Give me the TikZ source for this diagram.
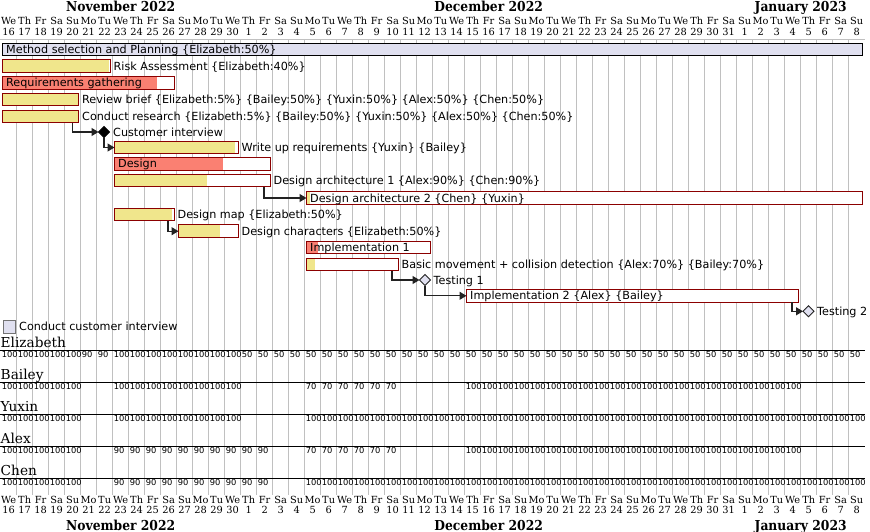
\documentclass[tikz,border=0pt]{standalone}
\usepackage{fontspec}
\setmainfont{DejaVu Sans}
\newfontfamily\hdrfont{DejaVu Serif}
\newfontfamily\monthfont[FakeStretch=0.9]{DejaVu Serif}
\usetikzlibrary{shapes.geometric,arrows.meta}
\definecolor{grp}{HTML}{E0E0F0}
\definecolor{khaki}{HTML}{F0E68C}
\definecolor{salmon}{HTML}{FA8072}
\definecolor{barline}{HTML}{8B0000}
\definecolor{gridc}{HTML}{C0C0C0}
\definecolor{connc}{HTML}{222222}
\newcommand\dayname[1]{\ifcase#1 We\or Th\or Fr\or Sa\or Su\or Mo\or Tu\fi}
\newcommand\loadrow[5]{\foreach \k in {#3,...,#4}{\node[ldnum] (#1\k) at ({16*\k+1.67},#2) {#5};}}
\tikzset{
  taskbar/.style={draw=barline, line width=1pt, fill=white, minimum height=12.5pt, inner sep=0pt, outer sep=0pt, anchor=west},
  grpbar/.style={draw=black, line width=1pt, fill=grp, minimum height=12.5pt, inner sep=0pt, outer sep=0pt, anchor=west},
  done/.style 2 args={path picture={\fill[#1] (path picture bounding box.north west) rectangle ([xshift=#2]path picture bounding box.south west);}},
  lbl/.style={font=\fontsize{11.2}{13}\selectfont, inner sep=0pt, anchor=base west},
  msblack/.style={diamond, aspect=1, minimum width=11pt, minimum height=11pt, inner sep=0pt, outer sep=0pt, fill=black, draw=black, line width=0.8pt},
  msgrp/.style={diamond, aspect=1, minimum width=11pt, minimum height=11pt, inner sep=0pt, outer sep=0pt, fill=grp, draw=connc, line width=0.8pt},
  conn/.style={draw=connc, line width=1.3pt, -{Triangle[length=7pt,width=8pt]}},
  gridline/.style={draw=gridc, line width=1pt},
  dayhd/.style={font=\hdrfont\fontsize{9.8}{11}\selectfont, inner sep=0pt, anchor=base},
  monthhd/.style={font=\monthfont\bfseries\fontsize{13.7}{15}\selectfont, inner sep=0pt, anchor=base},
  resname/.style={font=\hdrfont\fontsize{13.7}{15}\selectfont, inner sep=0pt, anchor=base west},
  ldnum/.style={font=\fontsize{8.3}{9}\selectfont, inner sep=0pt, anchor=base west},
  sepline/.style={draw=black, line width=1pt}
}
\begin{document}
\begin{tikzpicture}[x=1pt,y=-1pt]
\useasboundingbox (0,0) rectangle (870,532);
% grid
\draw[gridline] (0,39.5) -- (864.67,39.5);
\foreach \k in {1,...,53} \draw[gridline] ({16*\k+0.67},39.5) -- ({16*\k+0.67},495);
% headers
\foreach \k in {0,...,53}{
  \pgfmathtruncatemacro\m{mod(\k,7)}
  \pgfmathtruncatemacro\dn{\k<15 ? 16+\k : (\k<46 ? \k-14 : \k-45)}
  \node[dayhd] (tdn\k) at ({16*\k+8.67},25) {\dayname{\m}};
  \node[dayhd] (tdd\k) at ({16*\k+8.67},35.7) {\dn};
  \node[dayhd] (bdn\k) at ({16*\k+8.67},503) {\dayname{\m}};
  \node[dayhd] (bdd\k) at ({16*\k+8.67},513.3) {\dn};
}
\node[monthhd] (tnov) at (120.67,11.7) {November 2022};
\node[monthhd] (tdec) at (488.67,11.7) {December 2022};
\node[monthhd] (tjan) at (800.67,11.7) {January 2023};
\node[monthhd] (bnov) at (120.67,530) {November 2022};
\node[monthhd] (bdec) at (488.67,530) {December 2022};
\node[monthhd] (bjan) at (800.67,530) {January 2023};
% tasks
\node[grpbar, minimum width=859.5pt] (b0) at (2.5,49.3) {};
\node[lbl] (l0) at ([xshift=3.5pt,yshift=-4pt]b0.west) {Method selection and Planning \{Elizabeth:50\%\}};
\node[taskbar, done={khaki}{106pt}, minimum width=107.5pt] (b1) at (2.5,66.2) {};
\node[lbl] (l1) at ([xshift=3.5pt,yshift=-4pt]b1.east) {Risk Assessment \{Elizabeth:40\%\}};
\node[taskbar, done={salmon}{154pt}, minimum width=171.5pt] (b2) at (2.5,83) {};
\node[lbl] (l2) at ([xshift=3.5pt,yshift=-4pt]b2.west) {Requirements gathering};
\node[taskbar, done={khaki}{80pt}, minimum width=76pt] (b3) at (2.5,99.7) {};
\node[lbl] (l3) at ([xshift=3.5pt,yshift=-4pt]b3.east) {Review brief \{Elizabeth:5\%\} \{Bailey:50\%\} \{Yuxin:50\%\} \{Alex:50\%\} \{Chen:50\%\}};
\node[taskbar, done={khaki}{80pt}, minimum width=76pt] (b4) at (2.5,116.5) {};
\node[lbl] (l4) at ([xshift=3.5pt,yshift=-4pt]b4.east) {Conduct research \{Elizabeth:5\%\} \{Bailey:50\%\} \{Yuxin:50\%\} \{Alex:50\%\} \{Chen:50\%\}};
\node[msblack] (m5) at (104,132) {};
\node[lbl] (l5) at ([xshift=3.5pt,yshift=-4pt]m5.east) {Customer interview};
\node[taskbar, done={khaki}{120.5pt}, minimum width=123.5pt] (b6) at (114.5,147.5) {};
\node[lbl] (l6) at ([xshift=3.5pt,yshift=-4pt]b6.east) {Write up requirements \{Yuxin\} \{Bailey\}};
\node[taskbar, done={salmon}{108.5pt}, minimum width=155.5pt] (b7) at (114.5,163.8) {};
\node[lbl] (l7) at ([xshift=3.5pt,yshift=-4pt]b7.west) {Design};
\node[taskbar, done={khaki}{92pt}, minimum width=155.5pt] (b8) at (114.5,180.5) {};
\node[lbl] (l8) at ([xshift=3.5pt,yshift=-4pt]b8.east) {Design architecture 1 \{Alex:90\%\} \{Chen:90\%\}};
\node[taskbar, done={khaki}{3.5pt}, minimum width=555.5pt] (b9) at (306.5,198) {};
\node[lbl] (l9) at ([xshift=3.5pt,yshift=-4pt]b9.west) {Design architecture 2 \{Chen\} \{Yuxin\}};
\node[taskbar, done={khaki}{57pt}, minimum width=59.5pt] (b10) at (114.5,214.7) {};
\node[lbl] (l10) at ([xshift=3.5pt,yshift=-4pt]b10.east) {Design map \{Elizabeth:50\%\}};
\node[taskbar, done={khaki}{41.5pt}, minimum width=59.5pt] (b11) at (178.5,231.2) {};
\node[lbl] (l11) at ([xshift=3.5pt,yshift=-4pt]b11.east) {Design characters \{Elizabeth:50\%\}};
\node[taskbar, done={salmon}{11.5pt}, minimum width=123.5pt] (b12) at (306.5,247.7) {};
\node[lbl] (l12) at ([xshift=3.5pt,yshift=-4pt]b12.west) {Implementation 1};
\node[taskbar, done={khaki}{8.5pt}, minimum width=91.5pt] (b13) at (306.5,264.7) {};
\node[lbl] (l13) at ([xshift=3.5pt,yshift=-4pt]b13.east) {Basic movement + collision detection \{Alex:70\%\} \{Bailey:70\%\}};
\node[msgrp] (m14) at (425,280) {};
\node[lbl] (l14) at ([xshift=3pt,yshift=-4pt]m14.east) {Testing 1};
\node[taskbar, minimum width=331.5pt] (b15) at (466.5,295.8) {};
\node[lbl] (l15) at ([xshift=3.5pt,yshift=-4pt]b15.west) {Implementation 2 \{Alex\} \{Bailey\}};
\node[msgrp] (m16) at (808.5,311.3) {};
\node[lbl] (l16) at ([xshift=3pt,yshift=-4pt]m16.east) {Testing 2};
% connectors
\draw[conn] ([xshift=-6pt]b4.south east) |- (m5.west);
\draw[conn] (m5.south) |- (b6.west);
\draw[conn] ([xshift=-6pt]b8.south east) |- (b9.west);
\draw[conn] ([xshift=-6pt]b10.south east) |- (b11.west);
\draw[conn] ([xshift=-6pt]b13.south east) |- (m14.west);
\draw[conn] (m14.south) |- (b15.west);
\draw[conn] ([xshift=-6pt]b15.south east) |- (m16.west);
% legend
\node[draw=gridc!60!black, line width=0.8pt, fill=grp, minimum width=12pt, minimum height=13pt, inner sep=0pt] (leg) at (9,327) {};
\node[lbl] (legt) at (19,330.7) {Conduct customer interview};
% resources
\foreach \nm/\L in {Elizabeth/350.5, Bailey/382.6, Yuxin/414.7, Alex/446.8, Chen/478.9}{
  \node[resname] (rn\nm) at (0.5,{\L-3.5}) {\nm};
  \draw[sepline] (0,\L) -- (865,\L);
}
\loadrow{ea}{357.5}{0}{4}{100}
\loadrow{eb}{357.5}{5}{6}{90}
\loadrow{ec}{357.5}{7}{14}{100}
\loadrow{ed}{357.5}{15}{53}{50}
\loadrow{ba}{389.6}{0}{4}{100}
\loadrow{bb}{389.6}{7}{14}{100}
\loadrow{bc}{389.6}{19}{24}{70}
\loadrow{bd}{389.6}{29}{49}{100}
\loadrow{ya}{421.7}{0}{4}{100}
\loadrow{yb}{421.7}{7}{14}{100}
\loadrow{yc}{421.7}{19}{53}{100}
\loadrow{aa}{453.8}{0}{4}{100}
\loadrow{ab}{453.8}{7}{16}{90}
\loadrow{ac}{453.8}{19}{24}{70}
\loadrow{ad}{453.8}{29}{49}{100}
\loadrow{ca}{485.9}{0}{4}{100}
\loadrow{cb}{485.9}{7}{16}{90}
\loadrow{cc}{485.9}{19}{53}{100}
\end{tikzpicture}
\end{document}
